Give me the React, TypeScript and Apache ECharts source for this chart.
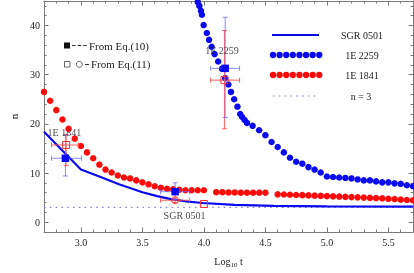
import React, { useEffect, useRef } from "react";
import * as echarts from "echarts";

// ---- data ----
const xMin = 2.7;
const xMax = 5.7;
const yMin = -2;
const yMax = 45;

// SGR 0501 (solid blue line)
const sgrX = [2.7, 3.0, 3.15, 3.31, 3.5, 3.62, 3.73, 3.85, 3.99, 4.25, 4.57, 5.0, 5.7];
const sgrN = [18.4, 10.7, 9.3, 7.7, 6.1, 5.3, 4.7, 4.25, 3.9, 3.5, 3.3, 3.2, 3.15];

// 1E 2259 (blue points, one per plotted dot)
const e2259X = [3.950, 3.963, 3.976, 3.984, 3.998, 4.024, 4.042, 4.063, 4.087, 4.116, 4.147, 4.173, 4.199, 4.220, 4.246, 4.273, 4.295, 4.311, 4.331, 4.350, 4.396, 4.449,
  4.50, 4.55, 4.60, 4.65, 4.70, 4.75, 4.80, 4.85, 4.90, 4.95, 5.00, 5.05, 5.10, 5.15, 5.20, 5.25, 5.30, 5.35, 5.40, 5.45, 5.50, 5.55, 5.60, 5.65, 5.70];
const e2259N = [44.8, 44.0, 43.0, 42.2, 40.1, 38.5, 37.1, 35.7, 34.2, 32.7, 31.2, 29.3, 28.0, 26.5, 25.0, 23.5, 22.0, 21.4, 20.8, 20.2, 19.6, 18.7,
  17.7, 16.3, 15.3, 14.2, 13.1, 12.3, 11.9, 11.2, 10.7, 10.1, 9.3, 9.2, 9.1, 9.0, 8.9, 8.7, 8.5, 8.5, 8.3, 8.1, 8.1, 7.9, 7.8, 7.5, 7.3];

// 1E 1841 (red points, one per plotted dot; none at 4.05 and 4.55)
const e1841X = [2.70, 2.75, 2.80, 2.85, 2.90, 2.95, 3.00, 3.05, 3.10, 3.15, 3.20, 3.25, 3.30, 3.35, 3.40, 3.45, 3.50, 3.55, 3.60, 3.65, 3.70, 3.75, 3.80, 3.85, 3.90, 3.95, 4.00,
  4.10, 4.15, 4.20, 4.25, 4.30, 4.35, 4.40, 4.45, 4.50,
  4.60, 4.65, 4.70, 4.75, 4.80, 4.85, 4.90, 4.95, 5.00, 5.05, 5.10, 5.15, 5.20, 5.25, 5.30, 5.35, 5.40, 5.45, 5.50, 5.55, 5.60, 5.65, 5.70];
const e1841N = [26.5, 24.7, 22.8, 20.9, 19.0, 17.0, 15.5, 14.2, 13.0, 11.7, 10.7, 10.1, 9.5, 9.1, 8.9, 8.5, 8.1, 7.7, 7.3, 7.0, 6.8, 6.7, 6.6, 6.5, 6.5, 6.5, 6.5,
  6.1, 6.1, 6.05, 6.05, 6.0, 6.0, 6.0, 6.0, 6.0,
  5.66, 5.62, 5.58, 5.54, 5.5, 5.45, 5.4, 5.35, 5.3, 5.25, 5.2, 5.15, 5.1, 5.05, 5.0, 4.95, 4.9, 4.85, 4.75, 4.7, 4.6, 4.5, 4.45];

// n = 3 reference
const nRefX = [2.7, 5.7];
const nRefN = [3, 3];

// From Eq.(10): filled blue squares with error bars
const eq10X = [2.874, 4.173, 3.766];
const eq10N = [13.0, 31.3, 6.2];
const eq10XLo = [2.761, 4.055, 3.648];
const eq10XHi = [3.005, 4.29, 3.884];
const eq10NLo = [9.4, 21.3, 4.6];
const eq10NHi = [17.7, 41.7, 8.0];

// From Eq.(11): open red symbols with error bars
const eq11X = [2.88, 4.167, 3.766];
const eq11N = [15.7, 28.9, 4.46];
const eq11XLo = [2.761, 4.055, 3.648];
const eq11XHi = [2.98, 4.29, 3.884];
const eq11NLo = [11.5, 19.0, 4.0];
const eq11NHi = [17.8, 39.0, 4.9];
const eq11Symbols = ["rect", "rect", "circle"];
// extra Eq.(11) point without error bars
const eq11ExtraX = [4.0];
const eq11ExtraN = [3.7];

// source labels
const srcNames = ["1E 1841", "1E 2259", "SGR 0501"];
const srcLabelX = [2.866, 4.147, 3.843];
const srcLabelN = [18.2, 34.9, 1.4];

const serif = "'Liberation Serif', 'Times New Roman', serif";
const axisColor = "#7a7a7a";
const textColor = "#222";
const blue = "#0a0af0";
const red = "#ff0a0a";

function zip(xs: number[], ys: number[]) {
  return xs.map((x, i) => [x, ys[i]]);
}

function errorRenderer(color: string) {
  return (_params: any, api: any) => {
    const x = api.value(0);
    const y = api.value(1);
    const a = api.coord([api.value(2), y]);
    const b = api.coord([api.value(3), y]);
    const c = api.coord([x, api.value(4)]);
    const d = api.coord([x, api.value(5)]);
    const cap = 2.5;
    const style = { stroke: color, lineWidth: 1 };
    const ln = (x1: number, y1: number, x2: number, y2: number) => ({
      type: "line",
      shape: { x1, y1, x2, y2 },
      style,
    });
    return {
      type: "group",
      children: [
        ln(a[0], a[1], b[0], b[1]),
        ln(a[0], a[1] - cap, a[0], a[1] + cap),
        ln(b[0], b[1] - cap, b[0], b[1] + cap),
        ln(c[0], c[1], d[0], d[1]),
        ln(c[0] - cap, c[1], c[0] + cap, c[1]),
        ln(d[0] - cap, d[1], d[0] + cap, d[1]),
      ],
    };
  };
}

function makeAxis(kind: "x" | "y", main: boolean, minor: boolean, labels: boolean, position: string) {
  const isX = kind === "x";
  const base: any = {
    type: "value",
    min: isX ? xMin : yMin,
    max: isX ? xMax : yMax,
    position,
    splitLine: { show: false },
    axisLine: { show: main, onZero: false, lineStyle: { color: axisColor, width: 1 } },
    axisTick: { show: true, inside: true, length: minor ? 2.5 : 4.5, lineStyle: { color: axisColor } },
    axisLabel: { show: false },
  };
  if (minor) base.interval = isX ? 0.1 : 2;
  if (labels) {
    base.axisLabel = {
      show: true,
      color: textColor,
      fontFamily: serif,
      fontSize: 10,
      margin: isX ? 5 : 4,
      showMinLabel: false,
      showMaxLabel: false,
      formatter: (v: number) => (isX ? v.toFixed(1) : String(Math.round(v))),
    };
  }
  return base;
}

export default function App() {
  const ref = useRef<HTMLDivElement>(null);
  useEffect(() => {
    if (!ref.current) return;
    const chart = echarts.init(ref.current, null, { renderer: "svg" });

    const xMain = makeAxis("x", true, false, true, "bottom");
    xMain.name = "{a|Log}{s|10}{a| t}";
    xMain.nameLocation = "middle";
    xMain.nameGap = 23;
    xMain.nameTextStyle = {
      rich: {
        a: { fontFamily: serif, fontSize: 10, color: textColor },
        s: { fontFamily: serif, fontSize: 7, color: textColor, padding: [6, 0, 0, 0] },
      },
    };
    const yMain = makeAxis("y", true, false, true, "left");
    yMain.name = "n";
    yMain.nameLocation = "middle";
    yMain.nameRotate = 90;
    yMain.nameGap = 25;
    yMain.nameTextStyle = { fontFamily: serif, fontSize: 11, color: textColor };

    const option: any = {
      animation: false,
      grid: { left: 33, right: 1, top: 1, bottom: 38, containLabel: false },
      xAxis: [
        xMain,
        makeAxis("x", true, false, false, "top"),
        makeAxis("x", false, true, false, "bottom"),
        makeAxis("x", false, true, false, "top"),
      ],
      yAxis: [
        yMain,
        makeAxis("y", true, false, false, "right"),
        makeAxis("y", false, true, false, "left"),
        makeAxis("y", false, true, false, "right"),
      ],
      series: [
        {
          type: "line",
          name: "n = 3",
          data: zip(nRefX, nRefN),
          showSymbol: false,
          lineStyle: { color: "#7d7dd8", width: 1.2, type: [1.5, 4.3] },
          z: 1,
        },
        {
          type: "scatter",
          name: "1E 1841",
          data: zip(e1841X, e1841N),
          symbol: "circle",
          symbolSize: 6.5,
          itemStyle: { color: red, opacity: 1 },
          z: 2,
        },
        {
          type: "scatter",
          name: "1E 2259",
          data: zip(e2259X, e2259N),
          symbol: "circle",
          symbolSize: 6.5,
          itemStyle: { color: blue, opacity: 1 },
          z: 2,
        },
        {
          type: "line",
          name: "SGR 0501",
          data: zip(sgrX, sgrN),
          showSymbol: false,
          lineStyle: { color: blue, width: 2.2 },
          z: 3,
        },
        {
          type: "custom",
          name: "err11",
          renderItem: errorRenderer("rgba(255,70,70,0.85)"),
          data: eq11X.map((x, i) => [x, eq11N[i], eq11XLo[i], eq11XHi[i], eq11NLo[i], eq11NHi[i]]),
          encode: { x: 0, y: 1 },
          z: 4,
        },
        {
          type: "custom",
          name: "err10",
          renderItem: errorRenderer("rgba(100,100,255,0.75)"),
          data: eq10X.map((x, i) => [x, eq10N[i], eq10XLo[i], eq10XHi[i], eq10NLo[i], eq10NHi[i]]),
          encode: { x: 0, y: 1 },
          z: 4,
        },
        {
          type: "scatter",
          name: "Eq11",
          data: eq11X
            .map((x, i) => ({ value: [x, eq11N[i]], symbol: eq11Symbols[i] }))
            .concat(eq11ExtraX.map((x, i) => ({ value: [x, eq11ExtraN[i]], symbol: "rect" }))),
          symbolSize: 7,
          itemStyle: { color: "rgba(0,0,0,0)", borderColor: "#ff3030", borderWidth: 1, opacity: 1 },
          z: 5,
        },
        {
          type: "scatter",
          name: "Eq10",
          data: eq10X.map((x, i) => [x, eq10N[i]]),
          symbol: "rect",
          symbolSize: 7.5,
          itemStyle: { color: blue, opacity: 1 },
          z: 6,
        },
        {
          type: "scatter",
          name: "labels",
          data: srcNames.map((n, i) => ({ name: n, value: [srcLabelX[i], srcLabelN[i]] })),
          symbolSize: 1,
          itemStyle: { color: "rgba(0,0,0,0)" },
          label: {
            show: true,
            position: "inside",
            formatter: "{b}",
            fontFamily: serif,
            fontSize: 10,
            color: textColor,
          },
          z: 7,
        },
      ],
      graphic: [
        // right legend
        { type: "line", shape: { x1: 272, y1: 35, x2: 319, y2: 35 }, style: { stroke: blue, lineWidth: 2.2 }, z: 10 },
        { type: "text", x: 362, y: 35, style: { text: "SGR 0501", fontFamily: serif, fontSize: 10, fill: textColor, align: "center", verticalAlign: "middle" }, z: 10 },
        { type: "line", shape: { x1: 273, y1: 55, x2: 321, y2: 55 }, style: { stroke: blue, lineWidth: 6.3, lineDash: [0.01, 6.6], lineCap: "round" }, z: 10 },
        { type: "text", x: 362, y: 55, style: { text: "1E 2259", fontFamily: serif, fontSize: 10, fill: textColor, align: "center", verticalAlign: "middle" }, z: 10 },
        { type: "line", shape: { x1: 273, y1: 75, x2: 321, y2: 75 }, style: { stroke: red, lineWidth: 6.3, lineDash: [0.01, 6.6], lineCap: "round" }, z: 10 },
        { type: "text", x: 362, y: 75, style: { text: "1E 1841", fontFamily: serif, fontSize: 10, fill: textColor, align: "center", verticalAlign: "middle" }, z: 10 },
        { type: "line", shape: { x1: 273, y1: 96, x2: 318, y2: 96 }, style: { stroke: "#7d7dd8", lineWidth: 1.2, lineDash: [1.5, 4.3] }, z: 10 },
        { type: "text", x: 361, y: 96, style: { text: "n = 3", fontFamily: serif, fontSize: 10, fill: textColor, align: "center", verticalAlign: "middle" }, z: 10 },
        // left legend
        { type: "rect", shape: { x: 64, y: 42.5, width: 6, height: 6 }, style: { fill: "#111" }, z: 10 },
        { type: "line", shape: { x1: 72, y1: 45.5, x2: 87, y2: 45.5 }, style: { stroke: "#333", lineWidth: 1, lineDash: [3.6, 2] }, z: 10 },
        { type: "text", x: 89, y: 45.5, style: { text: "From Eq.(10)", fontFamily: serif, fontSize: 11, fill: textColor, align: "left", verticalAlign: "middle" }, z: 10 },
        { type: "rect", shape: { x: 64.5, y: 61.5, width: 5.5, height: 5.5 }, style: { fill: "none", stroke: "#444", lineWidth: 0.8 }, z: 10 },
        { type: "circle", shape: { cx: 79.3, cy: 64.3, r: 3 }, style: { fill: "none", stroke: "#444", lineWidth: 0.8 }, z: 10 },
        { type: "line", shape: { x1: 85, y1: 64.5, x2: 89, y2: 64.5 }, style: { stroke: "#333", lineWidth: 1 }, z: 10 },
        { type: "text", x: 91, y: 64.3, style: { text: "From Eq.(11)", fontFamily: serif, fontSize: 11, fill: textColor, align: "left", verticalAlign: "middle" }, z: 10 },
      ],
    };
    chart.setOption(option);
    return () => chart.dispose();
  }, []);
  return <div ref={ref} style={{ position: "fixed", left: 0, top: 0, width: 414, height: 273 }} />;
}
